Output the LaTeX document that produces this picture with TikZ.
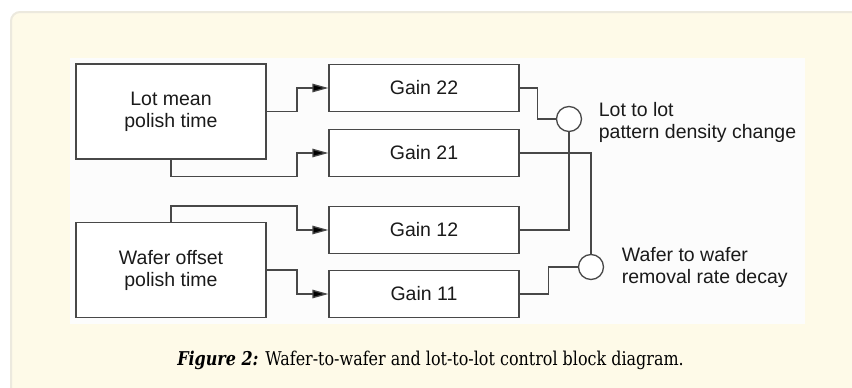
\documentclass[tikz,border=0pt]{standalone}
\usepackage{fontspec}
\setmainfont{Liberation Sans}
\newfontfamily\capfont[FakeStretch=0.84]{DejaVu Serif}
\usetikzlibrary{arrows.meta,calc}

\definecolor{panelfill}{RGB}{254,250,232}
\definecolor{panelline}{RGB}{236,233,222}
\definecolor{boxline}{RGB}{72,72,72}
\definecolor{inktext}{RGB}{26,26,26}

\tikzset{
  block/.style={draw=boxline, line width=1.3pt, fill=white, inner sep=0pt,
    minimum width=190pt, text=inktext, align=center,
    font=\fontsize{19.5}{22}\selectfont},
  gainbox/.style={block, minimum height=47pt},
  srcbox/.style={block, minimum height=95pt},
  sumpt/.style={circle, draw=boxline, line width=1.3pt, fill=white,
    minimum size=25pt, inner sep=0pt},
  wire/.style={draw=boxline, line width=1.3pt},
  feed/.style={wire, -{Triangle[length=16pt,width=8.5pt,fill=black]}},
  sidelabel/.style={anchor=west, align=left, inner sep=0pt, text=inktext,
    font=\fontsize{19.5}{22}\selectfont}
}

\begin{document}
\begin{tikzpicture}[x=1pt, y=-1pt]
  \useasboundingbox (0,0) rectangle (852,388);
  \clip (0,0) rectangle (852,388);

  % caption panel and white figure area
  \draw[rounded corners=9pt, fill=panelfill, draw=panelline, line width=2pt]
    (11,12) rectangle (880,410);
  \fill[white!99!black] (70,58) rectangle (805,324);

  % source blocks
  \node[srcbox] (lot)   at (171,111.5) {Lot mean\\polish time};
  \node[srcbox] (wafer) at (171,270)   {Wafer offset\\polish time};

  % gain blocks
  \node[gainbox] (g22) at (424,88)  {Gain 22};
  \node[gainbox] (g21) at (424,153) {Gain 21};
  \node[gainbox] (g12) at (424,230) {Gain 12};
  \node[gainbox] (g11) at (424,294) {Gain 11};

  % summing junctions
  \node[sumpt] (s1) at (569,119) {};
  \node[sumpt] (s2) at (591,267) {};

  % junction column for the input wiring
  \coordinate (jx) at (297,0);

  % inputs to the gains
  \draw[feed] (lot.east) -- (lot.east -| jx) |- (g22.west);
  \draw[feed] (lot.south) -- ++(0,17) -| (jx |- g21.west) -- (g21.west);
  \draw[feed] (wafer.north) -- ++(0,-16) -| (jx |- g12.west) -- (g12.west);
  \draw[feed] (wafer.east) -- (wafer.east -| jx) |- (g11.west);

  % gains to the summing junctions
  \draw[wire] (g22.east) -- ++(18,0) |- (s1.west);
  \draw[wire] (g12.east) -| (s1.south);
  \draw[wire] (g21.east) -| (s2.north);
  \draw[wire] (g11.east) -- ++(29,0) |- (s2.west);

  % junction labels
  \node[sidelabel] (l1) at ([xshift=16.5pt, yshift=-3pt]s1.east)
    {Lot to lot\\pattern density change};
  \node[sidelabel] (l2) at ([xshift=17.5pt]s2.east)
    {Wafer to wafer\\removal rate decay};

  % caption
  \node[font=\capfont\fontsize{19}{22}\selectfont, text=black] (cap) at (430.5,360)
    {\textbf{\textit{Figure 2:}} Wafer-to-wafer and lot-to-lot control block diagram.};
\end{tikzpicture}
\end{document}
